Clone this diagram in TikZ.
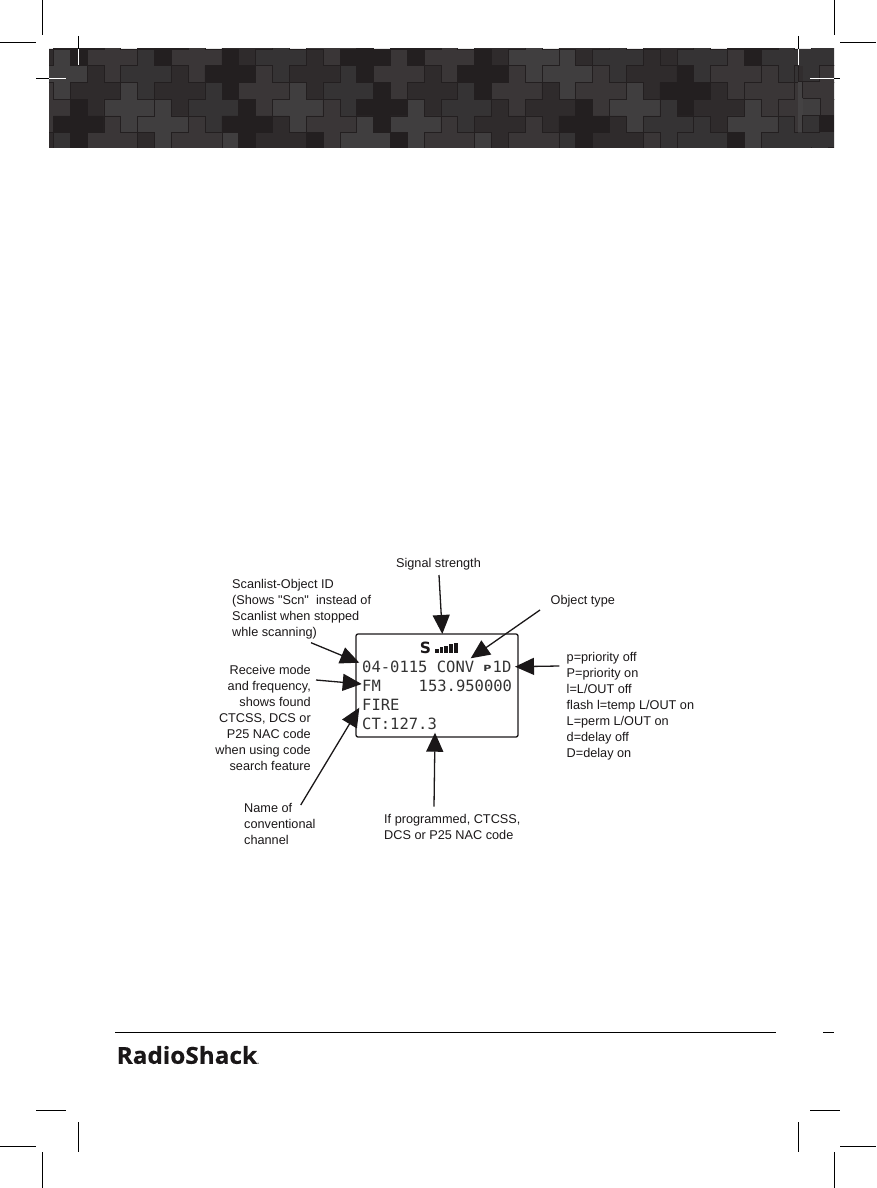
\documentclass[tikz,border=0pt]{standalone}
\usepackage{fontspec}
\setmainfont{Liberation Sans}
\newfontfamily\labelfont{Liberation Sans}
\newfontfamily\lcdfont{DejaVu Sans Mono}
\newfontfamily\symfont{DejaVu Sans}
\newfontfamily\logofont[BoldFeatures={FakeBold=0.5}]{Open Sans}
\usetikzlibrary{arrows.meta}
\definecolor{sa}{HTML}{231F20}
\definecolor{sb}{HTML}{2F2B2C}
\definecolor{sc}{HTML}{353334}
\definecolor{sd}{HTML}{3A3637}
\definecolor{se}{HTML}{403E3F}
\definecolor{sf}{HTML}{444243}
\definecolor{inkc}{HTML}{1A1718}
\tikzset{
  mark line/.style={black,line width=0.9pt},
  white mark/.style={white,line width=0.9pt},
  label text/.style={inner sep=0pt,font=\labelfont\fontsize{12.7}{16}\selectfont,inkc},
  lcd text/.style={inner sep=0pt,anchor=west,font=\lcdfont\fontsize{15.5}{19}\selectfont,black!80},
  callout/.style={line width=1.3pt,inkc,-{Triangle[length=19pt,width=17pt]}}
}
\begin{document}
\begin{tikzpicture}[x=1pt,y=-1pt]
\useasboundingbox (0,0) rectangle (876,1188);
% banner
\begin{scope}
\clip (49,49) rectangle (834,147);
\fill[sc] (49,49) rectangle (834,147);
\foreach \c/\r/\k in {
 -2/0/sb,3/0/sd,8/0/sd,13/0/sc,18/0/sa,23/0/sd,28/0/se,33/0/sc,38/0/sc,43/0/sc,
 1/-1/sa,6/-1/sa,11/-1/sb,16/-1/sd,21/-1/sa,26/-1/sb,31/-1/sb,36/-1/sb,41/-1/sa,46/-1/sc,
 0/1/se,5/1/sc,10/1/sa,15/1/sb,20/1/sd,25/1/sa,30/1/se,35/1/sb,40/1/sd,45/1/sc,
 -3/2/sc,2/2/sb,7/2/sb,12/2/sd,17/2/sc,22/2/sb,27/2/sd,32/2/sd,37/2/sa,42/2/sd,47/2/sd,
 -1/3/sd,4/3/se,9/3/sc,14/3/se,19/3/sa,24/3/sc,29/3/sb,34/3/se,39/3/sb,44/3/sd,
 1/4/sa,6/4/se,11/4/sa,16/4/sd,21/4/se,26/4/sb,31/4/sa,36/4/sc,41/4/se,46/4/sa,
 -2/5/sb,3/5/sd,8/5/sd,13/5/sb,18/5/se,23/5/sd,28/5/sd,33/5/sb,38/5/sc,43/5/sc,
 0/6/sc,5/6/sb,10/6/se,15/6/sa,20/6/sa,25/6/se,30/6/sc,35/6/sd,40/6/sa,45/6/sc}{
  \pgfmathsetmacro{\ux}{53.3+16.85*\c}
  \pgfmathsetmacro{\uy}{49+16.7*\r}
  \begin{scope}[shift={(\ux pt,-\uy pt)},x=16.85pt,y=-16.7pt]
   \filldraw[fill=\k,draw=sa,line width=0.5pt]
     (0,0) -- (-1,0) -- (-1,1) -- (0,1) -- (0,2) -- (1,2) -- (1,1) -- (2,1) -- (2,0) -- (1,0) -- (1,-1) -- (0,-1) -- cycle;
  \end{scope}
 }
% right-hand offset panel
\fill[sc] (798,49) rectangle (834,147);
\fill[sd] (798,81.7) rectangle (834,132);
\fill[sd] (819.5,65.7) rectangle (834,81.7);
\fill[se] (802.7,98.3) rectangle (820,115);
\fill[sb!70!sc] (798,65.7) rectangle (802.7,81.7);
\fill[sc] (802.7,115) rectangle (819.5,132);
\fill[sa] (819.5,115) rectangle (834,132);
\fill[sf] (798,81.7) rectangle (802.7,132);
\draw[sa,line width=0.5pt] (798,65.7) -- (798,81.7) -- (819.5,81.7) -- (819.5,65.7) -- (834,65.7)
  (802.7,98.3) -- (820,98.3) -- (820,115) (802.7,98.3) -- (802.7,81.7)
  (802.7,115) -- (834,115) (802.7,115) -- (802.7,132) -- (819.5,132) -- (819.5,115);
\end{scope}
% crop marks
\foreach \a/\b/\d/\e in {42.5/0/42.5/35, 0/42.5/36/42.5, 834.5/0/834.5/35, 840/42.5/876/42.5,
 78/36/78/49, 36/78/49/78, 798.5/36/798.5/49, 834/78/840/78,
 0/1146.5/36/1146.5, 42.5/1152/42.5/1188, 840/1146.5/876/1146.5, 834.5/1152/834.5/1188,
 36/1110/66/1110, 78/1122/78/1152, 810/1110/840/1110, 798.5/1122/798.5/1152}{
  \draw[mark line] (\a,\b) -- (\d,\e);
}
\foreach \a/\b/\d/\e in {78/49/78/65, 49/78/66/78, 798.5/49/798.5/65, 810/78/834/78}{
  \draw[white mark] (\a,\b) -- (\d,\e);
}
% footer
\draw[mark line] (115,1032.5) -- (776,1032.5);
\draw[mark line] (823,1032.5) -- (834,1032.5);
\node[inner sep=0pt,anchor=west,inkc,xscale=1.04] (logo) at (116.5,1055) {\logofont\bfseries\fontsize{23.4}{24}\selectfont RadioShack\textcolor{black!60}{\fontsize{7}{7}\selectfont .}};
% LCD
\node[draw=inkc,line width=1.3pt,rounded corners=2pt,minimum width=162pt,minimum height=103pt,inner sep=0pt] (lcd) at (437,685.5) {};
\node[inner sep=0pt,font=\symfont\bfseries\fontsize{15.5}{16}\selectfont,inkc] (sig) at (425.5,648) {S};
\foreach \i/\t in {0/648.7,1/647.3,2/645.8,3/644.3,4/642.7}{
  \fill[inkc] ({435+4.7*\i},653) rectangle ({438.7+4.7*\i},\t);
}
\node[lcd text] (l1) at (362,666.5) {04-0115 CONV};
\node[lcd text,font=\symfont\bfseries\fontsize{8.5}{10}\selectfont,xscale=1.3] (l1p) at (483,668.5) {P};
\node[lcd text] (l1b) at (492.5,666.5) {1D};
\node[lcd text] (l2) at (362,685.5) {FM};
\node[lcd text] (l2b) at (418.5,685.5) {153.950000};
\node[lcd text] (l3) at (362,704.5) {FIRE};
\node[lcd text] (l4) at (362,723.5) {CT:127.3};
% labels
\node[label text,anchor=center] (tsig) at (438.5,564) {Signal strength};
\node[label text,anchor=north west,align=left] (tscan) at (232,579) {Scanlist-Object ID\\(Shows "Scn"\ \ instead of\\Scanlist when stopped\\whle scanning)};
\node[label text,anchor=west] (tobj) at (550.5,601) {Object type};
\node[label text,anchor=north west,align=left] (tpri) at (566.5,652) {p=priority off\\P=priority on\\l=L/OUT off\\flash l=temp L/OUT on\\L=perm L/OUT on\\d=delay off\\D=delay on};
\node[label text,anchor=north east,align=right] (trx) at (311,665) {Receive mode\\and frequency,\\shows found\\CTCSS, DCS or\\P25 NAC code\\when using code\\search feature};
\node[label text,anchor=north west,align=left] (tname) at (244,803) {Name of\\conventional\\channel};
\node[label text,anchor=north west,align=left] (tcode) at (384,814) {If programmed, CTCSS,\\DCS or P25 NAC code};
% connector ends
\coordinate (a1s) at (439,575); \coordinate (a1e) at (442.3,634);
\coordinate (a2s) at (540,610); \coordinate (a2e) at (470.7,658.3);
\coordinate (a3s) at (559.3,666); \coordinate (a3e) at (515,666.7);
\coordinate (a4s) at (311,642.7); \coordinate (a4e) at (359.3,662.7);
\coordinate (a5s) at (316,680); \coordinate (a5e) at (361.7,684);
\coordinate (a6s) at (300.7,805); \coordinate (a6e) at (359.3,707.7);
\coordinate (a7s) at (434,806.7); \coordinate (a7e) at (435,732.7);
\foreach \n in {1,...,7}{ \draw[callout] (a\n s) -- (a\n e); }
\end{tikzpicture}
\end{document}
